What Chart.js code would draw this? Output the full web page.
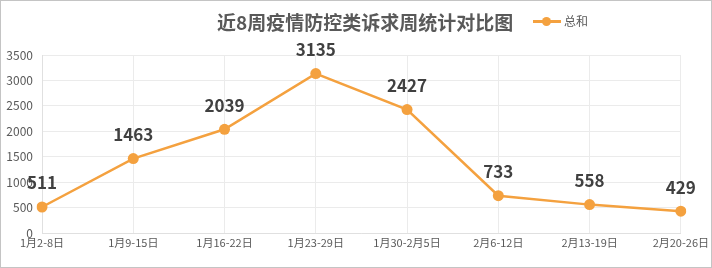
<!DOCTYPE html>
<html>
<head>
<meta charset="utf-8">
<script src="https://cdn.jsdelivr.net/npm/chart.js@4"></script>
<style>
  html, body { margin: 0; padding: 0; background: #fff; }
  #wrap { position: relative; width: 712px; height: 268px; }
  #frame { position: absolute; left: 0; top: 0; width: 712px; height: 268px; box-sizing: border-box; border: 1px solid #c4c4c4; pointer-events: none; }
  #title { position: absolute; left: 217px; top: 9px; font: bold 19px "Noto Sans CJK SC", sans-serif; color: #595959; white-space: nowrap; line-height: 26px; }
  #legend { position: absolute; left: 533px; top: 12px; font: 12px "Noto Sans CJK SC", sans-serif; color: #595959; line-height: 18px; white-space: nowrap; }
  #legend .mk { display: inline-block; position: relative; width: 28px; height: 18px; vertical-align: top; margin-right: 3px; }
  #legend .mk:before { content: ""; position: absolute; left: 0; right: 0; top: 8px; height: 3px; background: #f4a13f; }
  #legend .mk:after { content: ""; position: absolute; left: 9px; top: 5px; width: 9px; height: 9px; border-radius: 50%; background: #f4a13f; }
</style>
</head>
<body>
<div id="wrap">
  <canvas id="chart" width="712" height="268"></canvas>
  <div id="title">近8周疫情防控类诉求周统计对比图</div>
  <div id="legend"><span class="mk"></span>总和</div>
  <div id="frame"></div>
</div>
<script>
// 周次（横轴）
const weeks = ['1月2-8日', '1月9-15日', '1月16-22日', '1月23-29日', '1月30-2月5日', '2月6-12日', '2月13-19日', '2月20-26日'];
// 总和
const totals = [511, 1463, 2039, 3135, 2427, 733, 558, 429];
// 纵轴刻度
const yMax = 3500;
const yStep = 500;

const lineColor = '#f4a13f';

// 数据标签
const valueLabels = {
  id: 'valueLabels',
  afterDatasetsDraw(chart) {
    const ctx = chart.ctx;
    const meta = chart.getDatasetMeta(0);
    ctx.save();
    ctx.font = 'bold 17px "Noto Sans CJK SC", sans-serif';
    ctx.fillStyle = '#404040';
    ctx.textAlign = 'center';
    ctx.textBaseline = 'middle';
    meta.data.forEach(function(pt, i) {
      ctx.fillText(String(totals[i]), pt.x, pt.y - 24);
    });
    ctx.restore();
  }
};

new Chart(document.getElementById('chart').getContext('2d'), {
  type: 'line',
  data: {
    labels: weeks,
    datasets: [{
      label: '总和',
      data: totals,
      borderColor: lineColor,
      backgroundColor: lineColor,
      borderWidth: 2.5,
      pointRadius: 5.5,
      pointBackgroundColor: lineColor,
      pointBorderWidth: 0,
      tension: 0
    }]
  },
  options: {
    responsive: false,
    animation: false,
    layout: {
      autoPadding: false,
      padding: { left: 0, right: 29, top: 55, bottom: 0 }
    },
    plugins: {
      legend: { display: false },
      title: { display: false },
      tooltip: { enabled: false }
    },
    scales: {
      x: {
        offset: false,
        grid: { color: '#ebebeb', drawTicks: false },
        border: { color: '#e0e0e0' },
        ticks: {
          color: '#595959',
          font: { size: 11, family: '"Noto Sans CJK SC", sans-serif' },
          padding: 3,
          maxRotation: 0,
          autoSkip: false
        },
        afterFit(scale) { scale.height = 35; }
      },
      y: {
        min: 0,
        max: yMax,
        grid: { color: '#ebebeb', drawTicks: false },
        border: { color: '#e0e0e0' },
        ticks: {
          stepSize: yStep,
          color: '#595959',
          font: { size: 12, family: '"Noto Sans CJK SC", sans-serif' },
          padding: 9,
          callback: function(v) { return String(v); }
        },
        afterFit(scale) { scale.width = 42; }
      }
    }
  },
  plugins: [valueLabels]
});
</script>
</body>
</html>
